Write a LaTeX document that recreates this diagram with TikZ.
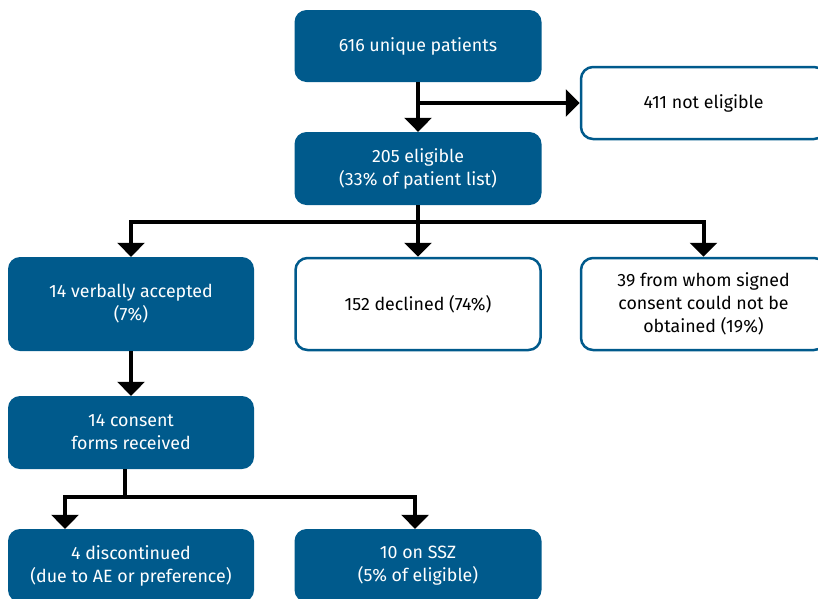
\documentclass[tikz,border=0pt]{standalone}
\usepackage{fontspec}
\setmainfont{Fira Sans}
\usetikzlibrary{arrows.meta}
\definecolor{boxblue}{HTML}{005A8C}
\tikzset{
  x=1pt,y=-1pt,
  boxfont/.style={font=\fontsize{17.8}{23}\selectfont},
  filled/.style={draw=none,fill=boxblue,rounded corners=12pt,text=white,align=center,boxfont,inner sep=0pt},
  outlined/.style={draw=boxblue,line width=2.5pt,fill=white,rounded corners=12pt,text=black,align=center,boxfont,inner sep=0pt},
  conn/.style={line width=4pt,draw=black},
  arr/.style={conn,-{Triangle[width=27pt,length=14pt]}}
}
\begin{document}
\begin{tikzpicture}
\useasboundingbox (0,0) rectangle (818,598);
\node[filled,minimum width=247pt,minimum height=72pt] (A) at (418,46) {616 unique patients};
\node[outlined,minimum width=245pt,minimum height=72pt] (B) at (703.5,103) {411 not eligible};
\node[filled,minimum width=247pt,minimum height=73pt] (C) at (418,168.5) {205 eligible\\(33\% of patient list)};
\node[filled,minimum width=246pt,minimum height=94pt] (D) at (131,304) {14 verbally accepted\\(7\%)};
\node[outlined,minimum width=245pt,minimum height=92pt] (E) at (418,304) {152 declined (74\%)};
\node[outlined,minimum width=245pt,minimum height=92pt] (F) at (703.5,304) {39 from whom signed\\consent could not be\\obtained (19\%)};
\node[filled,minimum width=246pt,minimum height=73pt] (G) at (131,432.5) {14 consent\\forms received};
\node[filled,minimum width=246pt,minimum height=73pt] (H) at (131,565.5) {4 discontinued\\(due to AE or preference)};
\node[filled,minimum width=247pt,minimum height=73pt] (I) at (418,565.5) {10 on SSZ\\(5\% of eligible)};
% connectors
\coordinate (ab) at (A.south |- B.west);
\draw[arr] (A.south) -- (C.north);
\draw[arr] (ab) -- (B.west);
\coordinate (c1) at (418,222);
\coordinate (cl) at (131,222);
\coordinate (cr) at (703.5,222);
\draw[conn] (C.south) -- (c1);
\draw[conn,line cap=rect] (cl) -- (cr);
\draw[arr] (cl) -- (D.north);
\draw[arr] (c1) -- (E.north);
\draw[arr] (cr) -- (F.north);
\draw[arr] (D.south) -- (G.north);
\coordinate (gs) at (125,469);
\coordinate (g1) at (125,497);
\coordinate (gl) at (65,497);
\coordinate (gr) at (415,497);
\draw[conn] (gs) -- (g1);
\draw[conn,line cap=rect] (gl) -- (gr);
\draw[arr] (gl) -- (gl |- H.north);
\draw[arr] (gr) -- (gr |- I.north);
\end{tikzpicture}
\end{document}
